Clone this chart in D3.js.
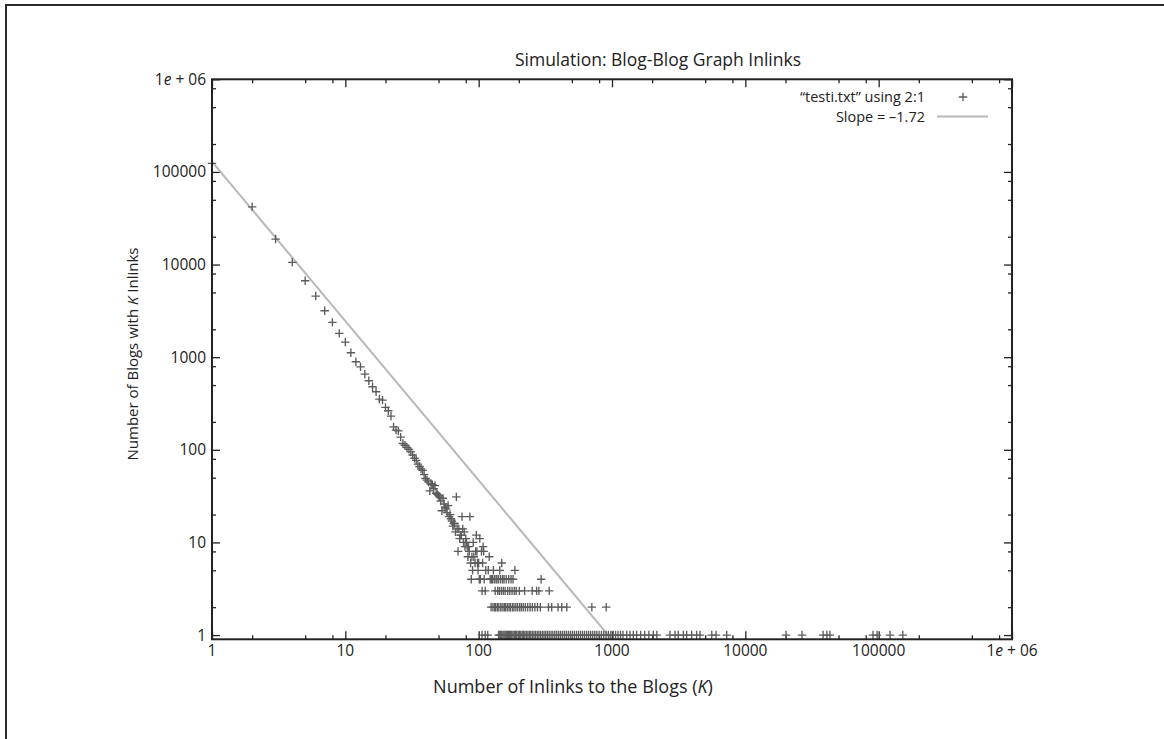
<!DOCTYPE html>
<html>
<head>
<meta charset="utf-8">
<script src="https://cdn.jsdelivr.net/npm/d3@7/dist/d3.min.js"></script>
<style>
  html, body { margin: 0; padding: 0; background: #fff; }
  svg { display: block; }
  text { font-family: "Open Sans", "Noto Sans", sans-serif; fill: #222; }
</style>
</head>
<body>
<svg id="chart" width="1164" height="739"></svg>
<script>
// ---------- data ----------
const chartTitle = "Simulation: Blog-Blog Graph Inlinks";
const xTitle = ["Number of Inlinks to the Blogs (", "K", ")"];
const yTitle = ["Number of Blogs with ", "K", " Inlinks"];
const legendPoints = "\u201ctesti.txt\u201d using 2:1";
const legendLine = "Slope = \u20131.72";

const majorTicks = [1, 10, 100, 1000, 10000, 100000, 1000000];
const tickLabels = ["1", "10", "100", "1000", "10000", "100000", "1e+06"];
const minorMultipliers = [2, 5, 8];

const fitSlope = -1.72;
const fitIntercept = 129000;

// steep head of the distribution: one count per in-link value
const curveK = [1,2,3,4,5,6,7,8,9,10,11,12,13,14,15,16,17,18,19,20,21,22,23,24,25,
  26,27,28,29,30,31,32,33,34,35,36,37,38,39,40,41,42,43,44,45,46,47,48,49,50];
const curveN = [123700,42000,18850,10570,6680,4570,3170,2376,1807,1456,1116,892,787,657,556,
  479,423,353,344,287,264,231,177,163,160,137,117,112,106,101,95,88,81,77,70,66,62,60,54,49,
  47,45,36,43,42,38,41,34,33,32];

// scattered middle section
const scatterK = [51,52,53,54,55,56,57,58,59,60,61,62,63,64,65,66,67,68,69,70,71,72,73,74,75,
  76,77,78,79,80,81,82,83,84,85,86,87,89,90,91,92,94,95,96,97,98,99,100,102,105,107,108,109,
  113,118,120,129,144,149,187];
const scatterN = [31,28,22,30,26,24,23,21,25,19,20,18,17,15,16,16,13,31,14,8,14,11,12,12,19,
  14,10,13,9,11,10,9,7,9,8,19,6,7,5,10,7,6,8,12,8,6,5,6,11,8,6,9,8,
  5,5,7,5,5,6,5];

// low-count rows
const kAtN4 = [88,101,103,110,122,125,127,131,135,137,141,146,151,155,161,168,175,181,294];
const kAtN3 = [106,112,133,139,143,148,153,158,165,171,178,185,191,202,221,252,272,283,338];
const kAtN2 = [124,128,132,134,138,140,145,147,152,156,159,164,169,173,179,184,190,196,203,209,
  216,224,233,243,253,264,276,290,334,353,394,420,458,706,905];
const kAtN1 = [106,112,117,141,144,146,149,152,155,158,161,164,167,170,174,177,181,185,189,193,
  198,202,207,212,217,222,228,234,240,246,253,260,267,275,283,291,300,309,318,328,338,349,360,
  372,384,397,410,424,439,454,470,487,504,522,541,560,580,601,622,645,668,692,717,743,770,800,
  833,867,903,940,980,1021,1064,1110,1158,1208,1290,1365,1445,1530,1640,1760,1890,2040,2170,
  2720,2970,3140,3430,3630,3960,4310,4570,5600,6030,7250,20200,26600,38300,40900,43100,
  90700,97300,121700,151700];

// ---------- build point table ----------
const points = [];
curveK.forEach((k, i) => points.push({k: k, n: curveN[i]}));
scatterK.forEach((k, i) => points.push({k: k, n: scatterN[i]}));
kAtN4.forEach(k => points.push({k: k, n: 4}));
kAtN3.forEach(k => points.push({k: k, n: 3}));
kAtN2.forEach(k => points.push({k: k, n: 2}));
kAtN1.forEach(k => points.push({k: k, n: 1}));

// ---------- layout ----------
const svg = d3.select("#chart");
const L = 212, R = 1012, T = 79.3, B = 639.3;

const x = d3.scaleLog().domain([1, 1e6]).range([L, R]);
const y = d3.scaleLog().domain([0.9, 1e6]).range([B, T]);

const ink = "#222";
const pointColor = "#5c5c5c";
const lineColor = "#b8b8b8";

// outer page frame (top & left edges visible)
svg.append("path")
  .attr("d", "M6,739 L6,5 L1164,5")
  .attr("fill", "none").attr("stroke", "#2a2a2a").attr("stroke-width", 2);

const minors = [];
majorTicks.slice(0, -1).forEach(m => minorMultipliers.forEach(f => minors.push(m * f)));

function fmtLabel(sel) {
  sel.each(function(d) {
    const t = d3.select(this);
    const lab = tickLabels[majorTicks.indexOf(d)];
    t.text(null);
    if (lab === "1e+06") {
      t.append("tspan").text("1");
      t.append("tspan").attr("font-style", "italic").text("e");
      t.append("tspan").text(" + 06");
    } else {
      t.text(lab);
    }
  });
}

// ticks (inward on all four sides)
function tickGroup(axisGen, transform, values, size) {
  const g = svg.append("g").attr("transform", transform)
    .call(axisGen.tickValues(values).tickSizeInner(size).tickSizeOuter(0).tickFormat(""));
  g.select(".domain").remove();
  g.selectAll("line").attr("stroke", ink).attr("stroke-width", 1.3);
  return g;
}
tickGroup(d3.axisBottom(x), `translate(0,${B})`, majorTicks, -8);
tickGroup(d3.axisBottom(x), `translate(0,${B})`, minors, -4);
tickGroup(d3.axisTop(x), `translate(0,${T})`, majorTicks, -8);
tickGroup(d3.axisTop(x), `translate(0,${T})`, minors, -4);
tickGroup(d3.axisLeft(y), `translate(${L},0)`, majorTicks, -8);
tickGroup(d3.axisLeft(y), `translate(${L},0)`, minors, -4);
tickGroup(d3.axisRight(y), `translate(${R},0)`, majorTicks, -8);
tickGroup(d3.axisRight(y), `translate(${R},0)`, minors, -4);

// tick labels
svg.append("g").selectAll("text").data(majorTicks).join("text")
  .attr("x", d => x(d)).attr("y", B + 17)
  .attr("text-anchor", "middle").attr("font-size", 15.5)
  .call(fmtLabel);
svg.append("g").selectAll("text").data(majorTicks).join("text")
  .attr("x", L - 6).attr("y", d => y(d) + 5.5)
  .attr("text-anchor", "end").attr("font-size", 15.5)
  .call(fmtLabel);

// clip for plot
svg.append("clipPath").attr("id", "plotclip")
  .append("rect").attr("x", L).attr("y", T).attr("width", R - L).attr("height", B - T);

// fit line
const kEnd = Math.pow(y.domain()[0] / fitIntercept, 1 / fitSlope);
const fitData = [1, kEnd].map(k => ({k: k, n: fitIntercept * Math.pow(k, fitSlope)}));
svg.append("path")
  .datum(fitData)
  .attr("clip-path", "url(#plotclip)")
  .attr("d", d3.line().x(d => x(d.k)).y(d => y(d.n)))
  .attr("fill", "none").attr("stroke", lineColor).attr("stroke-width", 2);

// points as "+" symbols
const hs = 4.2;
svg.append("g").attr("stroke", pointColor).attr("stroke-width", 1.35).attr("fill", "none")
  .selectAll("path").data(points).join("path")
  .attr("d", d => {
    const px = x(d.k), py = y(d.n);
    return `M${px - hs},${py}H${px + hs}M${px},${py - hs}V${py + hs}`;
  });

// plot frame
svg.append("rect").attr("x", L).attr("y", T).attr("width", R - L).attr("height", B - T)
  .attr("fill", "none").attr("stroke", ink).attr("stroke-width", 2);

// title
svg.append("text").attr("x", 658).attr("y", 66)
  .attr("text-anchor", "middle").attr("font-size", 17.5).text(chartTitle);

// x title
const xt = svg.append("text").attr("x", 573).attr("y", 693)
  .attr("text-anchor", "middle").attr("font-size", 18);
xt.append("tspan").text(xTitle[0]);
xt.append("tspan").attr("font-style", "italic").text(xTitle[1]);
xt.append("tspan").text(xTitle[2]);

// y title
const yt = svg.append("text").attr("transform", "translate(138,354) rotate(-90)")
  .attr("text-anchor", "middle").attr("font-size", 15);
yt.append("tspan").text(yTitle[0]);
yt.append("tspan").attr("font-style", "italic").text(yTitle[1]);
yt.append("tspan").text(yTitle[2]);

// legend
svg.append("text").attr("x", 925).attr("y", 102).attr("text-anchor", "end")
  .attr("font-size", 14.5).text(legendPoints);
svg.append("path")
  .attr("d", `M${963 - hs},97H${963 + hs}M963,${97 - hs}V${97 + hs}`)
  .attr("stroke", pointColor).attr("stroke-width", 1.35);
svg.append("text").attr("x", 925).attr("y", 122).attr("text-anchor", "end")
  .attr("font-size", 14.5).text(legendLine);
svg.append("line").attr("x1", 937).attr("x2", 988).attr("y1", 116.5).attr("y2", 116.5)
  .attr("stroke", lineColor).attr("stroke-width", 2);
</script>
</body>
</html>
